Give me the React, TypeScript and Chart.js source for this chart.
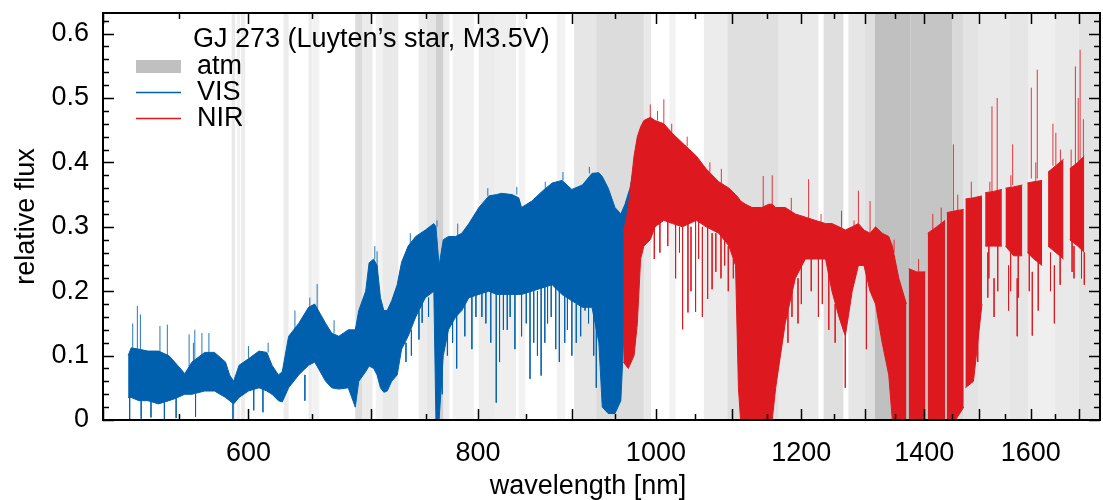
import React, { useEffect, useRef } from 'react';
import { Chart, registerables } from 'chart.js';

Chart.register(...registerables);

// ---------- data ----------
// VIS channel: wavelength [nm], upper and lower envelope of the dense spectrum
const visWl = [516, 518, 523, 529, 536, 543, 547, 554, 559, 568, 575, 583, 586, 589, 593, 600, 608, 614, 618, 623, 626, 631, 639, 647, 652, 661, 666, 672, 680, 686, 689, 695, 698, 702, 705, 708, 711, 714, 718, 723, 727, 733, 740, 749, 757, 759, 762, 766, 771, 778, 784, 791, 801, 811, 819, 824, 835, 842, 845, 856, 867, 878, 889, 900, 912, 923, 931, 935, 942, 950, 957, 962, 968, 975];
const visHi = [0.100, 0.112, 0.110, 0.107, 0.107, 0.100, 0.090, 0.072, 0.090, 0.105, 0.105, 0.090, 0.070, 0.060, 0.085, 0.095, 0.107, 0.105, 0.085, 0.070, 0.075, 0.130, 0.150, 0.175, 0.180, 0.150, 0.135, 0.130, 0.140, 0.140, 0.170, 0.200, 0.244, 0.250, 0.240, 0.190, 0.170, 0.170, 0.185, 0.210, 0.245, 0.270, 0.285, 0.295, 0.305, 0.300, 0.240, 0.280, 0.285, 0.285, 0.290, 0.305, 0.330, 0.348, 0.350, 0.352, 0.350, 0.345, 0.330, 0.340, 0.355, 0.368, 0.372, 0.358, 0.365, 0.383, 0.384, 0.378, 0.360, 0.330, 0.320, 0.335, 0.360, 0.405];
const visLo = [0.035, 0.035, 0.030, 0.030, 0.025, 0.030, 0.033, 0.040, 0.040, 0.045, 0.045, 0.035, 0.030, 0.025, 0.035, 0.045, 0.050, 0.045, 0.040, 0.030, 0.028, 0.050, 0.070, 0.085, 0.090, 0.060, 0.050, 0.048, 0.050, 0.020, 0.060, 0.075, 0.084, 0.080, 0.070, 0.050, 0.043, 0.045, 0.060, 0.070, 0.110, 0.130, 0.160, 0.190, 0.200, 0.000, 0.000, 0.100, 0.140, 0.160, 0.170, 0.190, 0.195, 0.200, 0.195, 0.195, 0.195, 0.195, 0.195, 0.200, 0.205, 0.210, 0.195, 0.185, 0.175, 0.175, 0.120, 0.020, 0.010, 0.010, 0.030, 0.170, 0.250, 0.300];

// NIR channel (null = gap between orders)
const nirWl = [960, 966, 973, 977, 981, 985, 993, 999, 1010, 1021, 1034, 1052, 1065, 1082, 1096, 1105, 1109, 1112, 1119, 1128, 1142, 1152, 1157, 1162, 1176, 1191, 1206, 1221, 1237, 1247, 1258, 1268, 1279, 1289, 1298, 1308, 1317, 1328, 1339, 1345, 1356, 1369, 1371, 1373, 1387, 1402, 1404, 1406, 1422, 1437, 1438.5, 1440, 1456, 1471, 1472.5, 1474, 1489, 1505, 1508, 1511, 1527, 1543, 1546, 1550, 1566, 1583, 1588, 1593, 1606, 1623, 1629, 1635, 1651, 1667, 1673, 1680, 1697, 1711];
const nirHi = [0.29, 0.33, 0.41, 0.44, 0.455, 0.465, 0.47, 0.465, 0.46, 0.445, 0.43, 0.41, 0.39, 0.37, 0.36, 0.35, 0.345, 0.34, 0.335, 0.33, 0.33, 0.335, 0.335, 0.33, 0.33, 0.32, 0.315, 0.31, 0.305, 0.305, 0.30, 0.295, 0.30, 0.305, 0.295, 0.29, 0.30, 0.29, 0.285, 0.27, 0.22, 0.18, null, 0.235, 0.23, 0.23, null, 0.29, 0.30, 0.31, null, 0.322, 0.325, 0.327, null, 0.343, 0.345, 0.348, null, 0.353, 0.355, 0.358, null, 0.36, 0.362, 0.365, null, 0.368, 0.37, 0.372, null, 0.385, 0.395, 0.405, null, 0.39, 0.40, 0.41];
const nirLo = [0.09, 0.08, 0.10, 0.15, 0.25, 0.27, 0.28, 0.30, 0.31, 0.305, 0.30, 0.31, 0.30, 0.29, 0.27, 0.24, 0.05, 0.0, 0.0, 0.0, 0.0, 0.0, 0.0, 0.05, 0.15, 0.22, 0.25, 0.25, 0.25, 0.20, 0.16, 0.13, 0.20, 0.24, 0.24, 0.20, 0.18, 0.12, 0.07, 0.0, 0.0, 0.0, null, 0.0, 0.0, 0.0, null, 0.0, 0.0, 0.0, null, 0.0, 0.0, 0.02, null, 0.05, 0.06, 0.18, null, 0.27, 0.27, 0.27, null, 0.27, 0.255, 0.255, null, 0.26, 0.25, 0.24, null, 0.27, 0.26, 0.25, null, 0.28, 0.27, 0.26];

// isolated absorption / emission spikes: wavelength, from, to
const visSpikeWl = [519, 522, 524, 537, 542, 557, 561, 566, 571, 517, 524.5, 531, 540, 548, 561.5, 588.5, 604, 611, 644, 654, 705, 746, 765, 779, 794, 804, 818.6, 830, 838, 854, 866, 873, 882, 892, 900, 910, 919, 731, 736, 743, 752, 770, 775, 787, 798, 808, 813, 822, 826, 833, 845, 850, 858, 862, 870, 877, 886, 895, 905, 915, 925, 928, 560, 600, 615, 636, 648, 668, 703, 735, 760, 780, 810, 840, 870.5, 890, 920];
const visSpikeFrom = [0.10, 0.10, 0.10, 0.10, 0.095, 0.08, 0.09, 0.10, 0.10, 0.04, 0.035, 0.03, 0.03, 0.035, 0.04, 0.03, 0.05, 0.05, 0.07, 0.17, 0.22, 0.20, 0.10, 0.17, 0.20, 0.21, 0.20, 0.20, 0.20, 0.20, 0.21, 0.21, 0.22, 0.20, 0.19, 0.18, 0.18, 0.12, 0.14, 0.17, 0.19, 0.14, 0.16, 0.18, 0.20, 0.21, 0.21, 0.20, 0.20, 0.20, 0.20, 0.20, 0.20, 0.20, 0.21, 0.22, 0.20, 0.19, 0.18, 0.18, 0.18, 0.15, 0.09, 0.095, 0.105, 0.14, 0.175, 0.135, 0.25, 0.27, 0.30, 0.285, 0.348, 0.35, 0.355, 0.372, 0.383];
const visSpikeTo = [0.15, 0.177, 0.164, 0.146, 0.148, 0.133, 0.14, 0.135, 0.135, 0.0, 0.002, 0.004, 0.0, 0.003, 0.005, 0.0, 0.015, 0.012, 0.03, 0.211, 0.262, 0.151, 0.04, 0.08, 0.11, 0.16, 0.027, 0.14, 0.11, 0.064, 0.069, 0.15, 0.11, 0.12, 0.10, 0.13, 0.15, 0.09, 0.10, 0.125, 0.16, 0.10, 0.12, 0.13, 0.16, 0.15, 0.12, 0.09, 0.14, 0.16, 0.13, 0.15, 0.12, 0.10, 0.12, 0.16, 0.09, 0.14, 0.12, 0.17, 0.10, 0.05, 0.12, 0.115, 0.12, 0.17, 0.19, 0.155, 0.27, 0.29, 0.31, 0.305, 0.36, 0.362, 0.37, 0.385, 0.393];

const nirSpikeWl = [993, 1002, 1010, 1034, 1041, 1051, 1060, 1067, 1073, 1090, 1102, 1144, 1157, 1195, 1211, 1226, 1242, 1268, 1289, 1302, 1308, 1452, 1497, 1516, 1524, 1528, 1534, 1556, 1564, 1573, 1601, 1603, 1613, 1645, 1648, 1651, 1689, 1692, 1698, 1702, 1709, 1711, 998, 1005, 1015, 1025, 1030, 1045, 1055, 1078, 1085, 1095, 1180, 1186, 1200, 1215, 1232, 1252, 1518, 1535, 1560, 1575, 1597, 1615, 1640, 1660, 1685, 1705, 1020, 1040, 1070, 1085.5, 1185, 1230, 1262, 1282, 1348, 1390, 1415, 1430, 1460, 1485, 1520, 1560.5, 1610, 1660.5, 1683];
const nirSpikeFrom = [0.47, 0.465, 0.46, 0.30, 0.31, 0.31, 0.30, 0.30, 0.29, 0.28, 0.25, 0.33, 0.335, 0.22, 0.31, 0.25, 0.25, 0.13, 0.305, 0.24, 0.29, 0.325, 0.18, 0.26, 0.355, 0.22, 0.355, 0.24, 0.365, 0.22, 0.375, 0.23, 0.375, 0.395, 0.24, 0.395, 0.27, 0.395, 0.395, 0.40, 0.41, 0.26, 0.30, 0.31, 0.31, 0.305, 0.30, 0.30, 0.31, 0.29, 0.29, 0.27, 0.17, 0.20, 0.24, 0.25, 0.25, 0.18, 0.27, 0.27, 0.26, 0.255, 0.26, 0.25, 0.26, 0.255, 0.28, 0.265, 0.445, 0.425, 0.385, 0.365, 0.325, 0.305, 0.298, 0.30, 0.26, 0.23, 0.295, 0.305, 0.325, 0.345, 0.355, 0.362, 0.37, 0.40, 0.39];
const nirSpikeTo = [0.49, 0.48, 0.498, 0.141, 0.167, 0.168, 0.16, 0.188, 0.203, 0.24, 0.22, 0.379, 0.38, 0.15, 0.374, 0.16, 0.14, 0.05, 0.356, 0.11, 0.34, 0.428, 0.09, 0.19, 0.487, 0.16, 0.50, 0.17, 0.428, 0.13, 0.516, 0.131, 0.544, 0.46, 0.15, 0.446, 0.22, 0.549, 0.50, 0.575, 0.467, 0.21, 0.25, 0.26, 0.27, 0.22, 0.26, 0.20, 0.25, 0.23, 0.22, 0.20, 0.12, 0.16, 0.18, 0.20, 0.18, 0.12, 0.22, 0.20, 0.20, 0.19, 0.20, 0.17, 0.20, 0.21, 0.23, 0.22, 0.46, 0.44, 0.40, 0.39, 0.345, 0.32, 0.325, 0.31, 0.28, 0.25, 0.32, 0.33, 0.35, 0.37, 0.37, 0.38, 0.40, 0.42, 0.42];

// telluric (atm) regions: start, end [nm], shade 0..1
const atmStart = [587.5, 591.3, 594.5, 627, 647, 650, 686, 692, 704, 710, 742.7, 750.4, 759, 766, 775, 800.7, 817, 842, 883.4, 902.5, 928, 985, 1017, 1062, 1094, 1166, 1234, 1273, 1300, 1316, 1376, 1450, 1470, 1498, 1558, 1595, 1650, 1699];
const atmEnd = [590, 593.8, 597.5, 631, 649.6, 655.7, 692, 701, 710, 724, 750.4, 759, 766, 772, 796, 817, 839, 849, 892.5, 928, 985, 994, 1025, 1094, 1166, 1226, 1265, 1300, 1316, 1376, 1450, 1470, 1498, 1558, 1595, 1650, 1699, 1745];
const atmShade = [0.35, 0.2, 0.3, 0.3, 0.3, 0.2, 0.55, 0.3, 0.2, 0.35, 0.3, 0.4, 0.75, 0.3, 0.22, 0.3, 0.25, 0.2, 0.2, 0.4, 0.55, 0.35, 0.2, 0.3, 0.5, 0.35, 0.5, 0.4, 0.5, 1.0, 0.92, 0.6, 0.45, 0.35, 0.4, 0.25, 0.35, 0.45];

// axes
const xTickValues = [500, 600, 700, 800, 900, 1000, 1100, 1200, 1300, 1400, 1500, 1600, 1700];
const xMinorTickValues = [550, 650, 750, 850, 950, 1050, 1150, 1250, 1350, 1450, 1550, 1650];
const xLabelValues = [600, 800, 1000, 1200, 1400, 1600];
const yTickValues = [0, 0.1, 0.2, 0.3, 0.4, 0.5, 0.6];
const yMinorTickValues = [0.02, 0.04, 0.06, 0.08, 0.12, 0.14, 0.16, 0.18, 0.22, 0.24, 0.26, 0.28, 0.32, 0.34, 0.36, 0.38, 0.42, 0.44, 0.46, 0.48, 0.52, 0.54, 0.56, 0.58, 0.62];

const xTitle = 'wavelength [nm]';
const yTitle = 'relative flux';
const legendTitle = 'GJ 273 (Luyten\u2019s star, M3.5V)';
const legendLabels = ['atm', 'VIS', 'NIR'];

const BLUE = '#0060ad';
const RED = '#dd181f';
const GRAY = '#c0c0c0';
const FONT = '"Liberation Sans", Arial, Helvetica, sans-serif';
const FS = 27;

const pts = (wl: number[], v: (number | null)[]) => wl.map((w, i) => ({ x: w, y: v[i] }));
const spikePts = (wl: number[], a: number[], b: number[]) =>
  wl.flatMap((w, i) => [{ x: w, y: a[i] }, { x: w, y: b[i] }, { x: w, y: null }]);

const atmPlugin = {
  id: 'atmBands',
  beforeDatasetsDraw(chart: any) {
    const { ctx, chartArea: a, scales } = chart;
    const x = scales.x;
    ctx.save();
    ctx.beginPath();
    ctx.rect(a.left, a.top, a.right - a.left, a.bottom - a.top);
    ctx.clip();
    for (let i = 0; i < atmStart.length; i++) {
      const x0 = x.getPixelForValue(atmStart[i]);
      const x1 = x.getPixelForValue(atmEnd[i]);
      ctx.fillStyle = `rgba(192,192,192,${atmShade[i]})`;
      ctx.fillRect(x0, a.top, x1 - x0, a.bottom - a.top);
    }
    ctx.restore();
  },
};

const framePlugin = {
  id: 'frameTicksLegend',
  afterDraw(chart: any) {
    const { ctx, chartArea: a, scales } = chart;
    const x = scales.x;
    const y = scales.y;
    ctx.save();
    ctx.strokeStyle = '#000';
    ctx.lineWidth = 1.5;
    ctx.beginPath();
    const xt = (vals: number[], len: number) => {
      vals.forEach((v) => {
        const p = Math.round(x.getPixelForValue(v)) + 0.5;
        ctx.moveTo(p, a.bottom);
        ctx.lineTo(p, a.bottom - len);
        ctx.moveTo(p, a.top);
        ctx.lineTo(p, a.top + len);
      });
    };
    const yt = (vals: number[], len: number) => {
      vals.forEach((v) => {
        const p = Math.round(y.getPixelForValue(v)) + 0.5;
        ctx.moveTo(a.left, p);
        ctx.lineTo(a.left + len, p);
        ctx.moveTo(a.right, p);
        ctx.lineTo(a.right - len, p);
      });
    };
    xt(xTickValues, 11);
    xt(xMinorTickValues, 6);
    yt(yTickValues, 11);
    yt(yMinorTickValues, 6);
    ctx.stroke();
    ctx.lineWidth = 2;
    ctx.strokeRect(a.left, a.top, a.right - a.left, a.bottom - a.top);

    // axis titles
    ctx.fillStyle = '#000';
    ctx.font = `${FS}px ${FONT}`;
    ctx.textAlign = 'center';
    ctx.textBaseline = 'alphabetic';
    ctx.fillText(xTitle, 588, 494);
    ctx.save();
    ctx.translate(34, (a.top + a.bottom) / 2);
    ctx.rotate(-Math.PI / 2);
    ctx.fillText(yTitle, 0, 0);
    ctx.restore();

    // key
    ctx.textBaseline = 'middle';
    ctx.textAlign = 'left';
    ctx.fillText(legendTitle, 193, 40);
    ctx.fillStyle = GRAY;
    ctx.fillRect(136, 60, 45, 13);
    ctx.lineWidth = 1.5;
    ctx.strokeStyle = BLUE;
    ctx.beginPath();
    ctx.moveTo(136, 92.5);
    ctx.lineTo(181, 92.5);
    ctx.stroke();
    ctx.strokeStyle = RED;
    ctx.beginPath();
    ctx.moveTo(136, 118.5);
    ctx.lineTo(181, 118.5);
    ctx.stroke();
    ctx.fillStyle = '#000';
    ctx.fillText(legendLabels[0], 197, 67);
    ctx.fillText(legendLabels[1], 197, 93);
    ctx.fillText(legendLabels[2], 197, 119);
    ctx.restore();
  },
};

export default function App() {
  const ref = useRef<HTMLCanvasElement | null>(null);
  useEffect(() => {
    document.body.style.margin = '0';
    const canvas = ref.current;
    if (!canvas) return;
    const chart = new Chart(canvas, {
      type: 'line',
      data: {
        datasets: [
          { label: 'NIR hi', data: pts(nirWl, nirHi), borderColor: RED, borderWidth: 1, fill: false, order: 1 },
          { label: 'NIR lo', data: pts(nirWl, nirLo), borderColor: RED, borderWidth: 1, backgroundColor: RED, fill: '-1', order: 1 },
          { label: 'NIR spikes', data: spikePts(nirSpikeWl, nirSpikeFrom, nirSpikeTo), borderColor: 'rgba(221,24,31,0.85)', borderWidth: 1, fill: false, order: 0 },
          { label: 'VIS hi', data: pts(visWl, visHi), borderColor: BLUE, borderWidth: 1, fill: false, order: 3 },
          { label: 'VIS lo', data: pts(visWl, visLo), borderColor: BLUE, borderWidth: 1, backgroundColor: BLUE, fill: '-1', order: 3 },
          { label: 'VIS spikes', data: spikePts(visSpikeWl, visSpikeFrom, visSpikeTo), borderColor: 'rgba(0,96,173,0.85)', borderWidth: 1, fill: false, order: 2 },
        ] as any,
      },
      options: {
        animation: false,
        responsive: false,
        maintainAspectRatio: false,
        devicePixelRatio: 1,
        spanGaps: false,
        elements: { point: { radius: 0 }, line: { tension: 0 } },
        layout: { padding: { top: 13, right: 3, left: 0, bottom: 0 } },
        plugins: { legend: { display: false }, tooltip: { enabled: false } },
        scales: {
          x: {
            type: 'logarithmic',
            min: 500,
            max: 1745,
            bounds: 'data',
            grid: { display: false, drawTicks: false },
            border: { display: false },
            afterBuildTicks: (s: any) => {
              s.ticks = xTickValues.map((v) => ({ value: v }));
            },
            afterFit: (s: any) => {
              s.height = 80;
              s.paddingLeft = 0;
              s.paddingRight = 0;
            },
            ticks: {
              autoSkip: false,
              maxRotation: 0,
              minRotation: 0,
              padding: 17,
              color: '#000',
              font: { family: FONT, size: FS, lineHeight: 1.2 },
              callback: (v: any) => (xLabelValues.includes(Number(v)) ? String(v) : ''),
            },
            title: { display: false },
          },
          y: {
            type: 'linear',
            min: 0,
            max: 0.632,
            bounds: 'data',
            grid: { display: false, drawTicks: false },
            border: { display: false },
            afterBuildTicks: (s: any) => {
              s.ticks = yTickValues.map((v) => ({ value: v }));
            },
            afterFit: (s: any) => {
              s.width = 103;
              s.paddingTop = 0;
              s.paddingBottom = 0;
            },
            ticks: {
              padding: 14,
              color: '#000',
              font: { family: FONT, size: FS, lineHeight: 1 },
              callback: (v: any) => (Number(v) === 0 ? '0' : Number(v).toFixed(1)),
            },
            title: { display: false },
          },
        },
      } as any,
      plugins: [atmPlugin, framePlugin],
    });
    return () => chart.destroy();
  }, []);
  return (
    <div style={{ position: 'absolute', left: 0, top: 0, width: 1103, height: 500 }}>
      <canvas ref={ref} width={1103} height={500} style={{ width: 1103, height: 500 }} />
    </div>
  );
}
